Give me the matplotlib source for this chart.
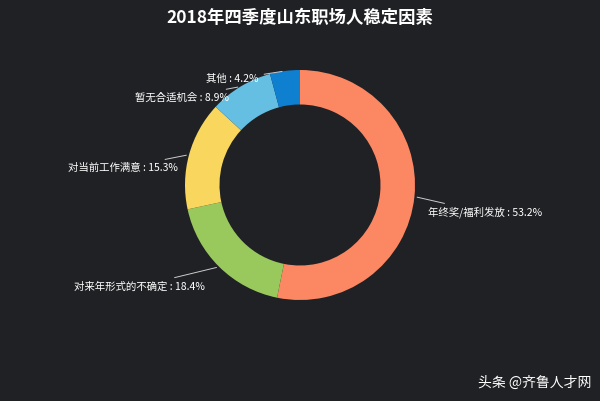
import matplotlib
matplotlib.use('Agg')
import matplotlib.pyplot as plt
from matplotlib import font_manager
import numpy as np

# pick whichever CJK font is registered
cjk = [f.name for f in font_manager.fontManager.ttflist if 'CJK' in f.name]
if not cjk:
    import glob
    for p in glob.glob('/usr/share/fonts/**/*CJK*', recursive=True):
        font_manager.fontManager.addfont(p)
    cjk = [f.name for f in font_manager.fontManager.ttflist if 'CJK' in f.name]
plt.rcParams['font.family'] = sorted(set(cjk)) + ['DejaVu Sans']

labels = ['年终奖/福利发放', '对来年形式的不确定', '对当前工作满意', '暂无合适机会', '其他']
values = [53.2, 18.4, 15.3, 8.9, 4.2]
colors = ['#fc8763', '#99c95c', '#f9d65e', '#64bfe2', '#0f7fcf']
# label text anchor points (data units, radius 1 = outer ring)
label_pos = [(1.11, -0.24), (-0.83, -0.88), (-1.06, 0.15), (-0.62, 0.76), (-0.36, 0.92)]

bg = '#1f2124'
fig = plt.figure(figsize=(6, 4.01), dpi=100, facecolor=bg)
ax = fig.add_axes([185/600, 101/401, 230/600, 230/401])
ax.set_facecolor(bg)
wedges, _ = ax.pie(values, colors=colors, startangle=90, counterclock=False,
                   radius=1, wedgeprops=dict(width=0.3, edgecolor='none'))
ax.set_xlim(-1, 1); ax.set_ylim(-1, 1)
ax.set_aspect('equal')
ax.axis('off')

for w, lab, v, (tx, ty) in zip(wedges, labels, values, label_pos):
    ang = np.deg2rad((w.theta1 + w.theta2) / 2)
    x0, y0 = np.cos(ang), np.sin(ang)
    ha = 'left' if tx > 0 else 'right'
    ax.annotate('%s : %.1f%%' % (lab, v), xy=(x0, y0), xytext=(tx, ty),
                ha=ha, va='center', color='white', fontsize=7.5,
                arrowprops=dict(arrowstyle='-', color='#cccccc', lw=0.7),
                annotation_clip=False)

fig.text(0.5, 1 - 18/401, '2018年四季度山东职场人稳定因素', ha='center', va='center',
         color='white', fontsize=12.5, fontweight='bold')
fig.text(0.985, 1 - 383/401, '头条 @齐鲁人才网', ha='right', va='center',
         color='white', fontsize=10)
fig.savefig('out.png', dpi=100, facecolor=bg)
